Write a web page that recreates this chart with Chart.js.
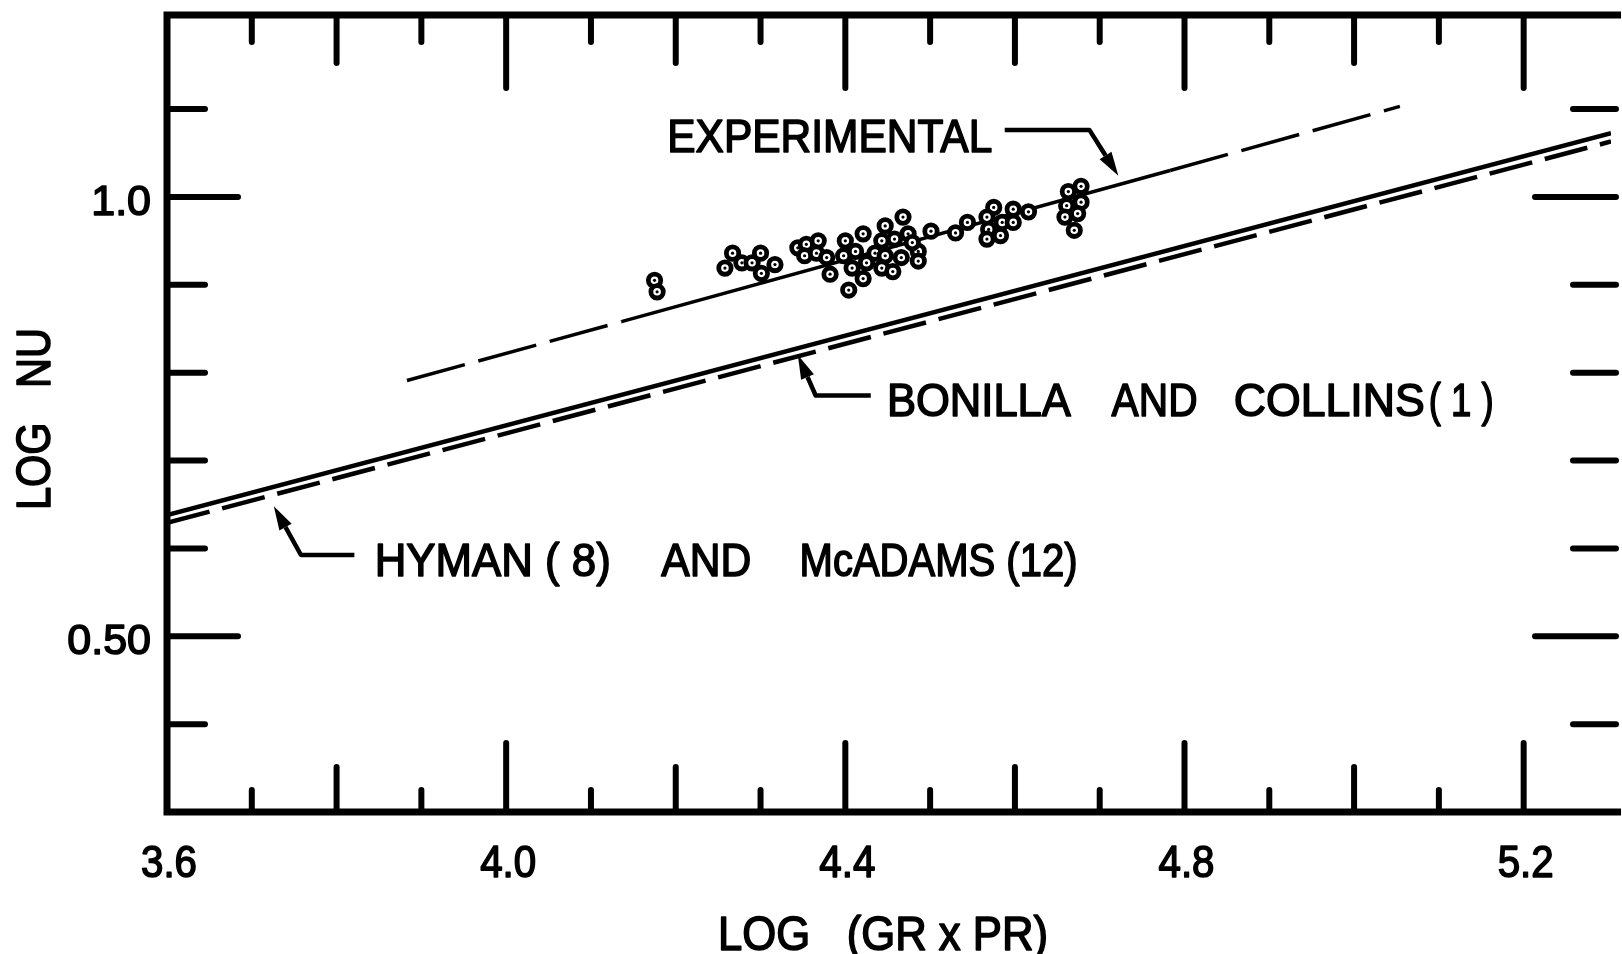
<!DOCTYPE html>
<html>
<head>
<meta charset="utf-8">
<script src="https://cdn.jsdelivr.net/npm/chart.js@4.4.1/dist/chart.umd.min.js"></script>
<style>
  html, body { margin: 0; padding: 0; background: #fff; overflow: hidden; }
  #wrap { position: relative; width: 1622px; height: 954px; }
</style>
</head>
<body>
<div id="wrap"><canvas id="chart"></canvas></div>
<script>
// axis ticks
const xMajor = [3.6, 4.0, 4.4, 4.8, 5.2];
const xTickLabels = ["3.6", "4.0", "4.4", "4.8", "5.2"];
const xMid = [3.8, 4.2, 4.6, 5.0];
const xMinor = [3.7, 3.9, 4.1, 4.3, 4.5, 4.7, 4.9, 5.1];
const yMajor = [0.5, 1.0];
const yTickLabels = ["0.50", "1.0"];
const yMinor = [0.4, 0.6, 0.7, 0.8, 0.9, 1.1];

// experimental points, log(Gr x Pr) vs log Nu
const logGrPr = [
  4.175, 4.178, 4.258, 4.267, 4.278, 4.290, 4.300, 4.301, 4.317,
  4.344, 4.354, 4.368, 4.352, 4.366, 4.378, 4.382, 4.400, 4.398,
  4.421, 4.412, 4.408, 4.425, 4.421, 4.404, 4.447, 4.468, 4.443,
  4.458, 4.474, 4.435, 4.447, 4.466, 4.443, 4.456, 4.486, 4.486,
  4.501, 4.479, 4.530, 4.544, 4.575, 4.567, 4.569, 4.585, 4.567,
  4.583, 4.598, 4.598, 4.616, 4.663, 4.678, 4.661, 4.678, 4.659,
  4.674, 4.670
];
const logNu = [
  0.905, 0.892, 0.919, 0.936, 0.925, 0.925, 0.936, 0.913, 0.923,
  0.942, 0.946, 0.950, 0.933, 0.936, 0.931, 0.912, 0.950, 0.933,
  0.958, 0.938, 0.919, 0.925, 0.907, 0.894, 0.967, 0.977, 0.950,
  0.952, 0.958, 0.936, 0.933, 0.931, 0.919, 0.915, 0.938, 0.927,
  0.961, 0.948, 0.959, 0.971, 0.988, 0.977, 0.963, 0.971, 0.952,
  0.956, 0.986, 0.971, 0.983, 1.006, 1.012, 0.990, 0.994, 0.977,
  0.981, 0.962
];

// correlation lines
const expFitX = [3.883, 4.136, 4.783, 5.054];
const expFitY = [0.791, 0.858, 1.030, 1.103];
const bonillaX = [3.6, 5.303];
const bonillaY = [0.638, 1.0725];
const hymanX = [3.6, 5.303];
const hymanY = [0.629, 1.063];

const pts = (xs, ys) => xs.map((v, i) => ({ x: v, y: ys[i] }));
const FONT = '"Liberation Sans", Arial, sans-serif';

// labels on the plot: [text, x, y(baseline), max width px]
const notes = [
  ["EXPERIMENTAL", 4.190, 1.051, 325],
  ["BONILLA", 4.449, 0.751, 184],
  ["AND", 4.714, 0.751, 86],
  ["COLLINS", 4.858, 0.751, 191],
  ["( 1 )", 5.088, 0.751, 65],
  ["HYMAN ( 8)", 3.845, 0.5686, 236],
  ["AND", 4.183, 0.5686, 90],
  ["McADAMS (12)", 4.346, 0.5686, 278]
];
// arrows: polyline in data coords, last point is the tip
const arrows = [
  [[4.588, 1.076], [4.688, 1.076], [4.722, 1.024]],
  [[4.430, 0.774], [4.365, 0.774], [4.344, 0.820]],
  [[3.821, 0.5925], [3.758, 0.5925], [3.726, 0.648]]
];

// lettering is heavier than the plain font, so fill and stroke it
function letter(ctx, s, x, y, w) {
  ctx.fillText(s, x, y, w);
  ctx.strokeText(s, x, y, w);
}

const frame = {
  id: "frame",
  afterDatasetsDraw(chart) {
    const { ctx, chartArea: a, scales } = chart;
    const sx = scales.x, sy = scales.y;
    ctx.save();
    ctx.strokeStyle = "#000";
    ctx.fillStyle = "#000";

    // box (right side is off the picture)
    ctx.lineWidth = 7;
    ctx.beginPath();
    ctx.moveTo(a.right + 10, a.top);
    ctx.lineTo(a.left, a.top);
    ctx.lineTo(a.left, a.bottom);
    ctx.lineTo(a.right + 10, a.bottom);
    ctx.stroke();

    ctx.lineWidth = 6;
    ctx.lineCap = "round";
    function vt(v, top, bot) {
      const px = sx.getPixelForValue(v);
      ctx.beginPath();
      ctx.moveTo(px, a.top); ctx.lineTo(px, a.top + top);
      ctx.moveTo(px, a.bottom); ctx.lineTo(px, a.bottom - bot);
      ctx.stroke();
    }
    xMajor.slice(1).forEach(v => vt(v, 73, 69));
    xMid.forEach(v => vt(v, 48, 45));
    xMinor.forEach(v => vt(v, 27, 22));

    function ht(v, l, r) {
      const py = sy.getPixelForValue(v);
      ctx.beginPath();
      ctx.moveTo(a.left, py); ctx.lineTo(a.left + l, py);
      ctx.moveTo(a.right + 5, py); ctx.lineTo(a.right - r, py);
      ctx.stroke();
    }
    yMajor.forEach(v => ht(v, 71, 76));
    yMinor.forEach(v => ht(v, 38, 38));

    ctx.lineWidth = 1.6;
    ctx.lineCap = "butt";
    ctx.lineJoin = "round";

    // tick labels
    ctx.font = "44px " + FONT;
    ctx.textAlign = "center";
    ctx.textBaseline = "alphabetic";
    xMajor.forEach((v, i) => {
      letter(ctx, xTickLabels[i], sx.getPixelForValue(v) + 2, a.bottom + 65, 56);
    });
    ctx.font = "43px " + FONT;
    ctx.textAlign = "right";
    yMajor.forEach((v, i) => {
      letter(ctx, yTickLabels[i], a.left - 16, sy.getPixelForValue(v) + 18, 86);
    });

    // axis titles
    ctx.font = "48px " + FONT;
    ctx.textAlign = "center";
    letter(ctx, "LOG   (GR x PR)", 883, a.bottom + 138, 330);
    ctx.save();
    ctx.translate(50, 419);
    ctx.rotate(-Math.PI / 2);
    letter(ctx, "LOG   NU", 0, 0, 182);
    ctx.restore();

    // notes
    ctx.font = "47px " + FONT;
    ctx.textAlign = "left";
    notes.forEach(n => {
      letter(ctx, n[0], sx.getPixelForValue(n[1]), sy.getPixelForValue(n[2]), n[3]);
    });

    // arrows
    ctx.lineWidth = 4.5;
    arrows.forEach(p => {
      const q = p.map(d => [sx.getPixelForValue(d[0]), sy.getPixelForValue(d[1])]);
      const tip = q[q.length - 1], prev = q[q.length - 2];
      const ang = Math.atan2(tip[1] - prev[1], tip[0] - prev[0]);
      const hl = 24, hw = 7;
      const bx = tip[0] - hl * Math.cos(ang), by = tip[1] - hl * Math.sin(ang);
      ctx.beginPath();
      ctx.moveTo(q[0][0], q[0][1]);
      for (let i = 1; i < q.length - 1; i++) ctx.lineTo(q[i][0], q[i][1]);
      ctx.lineTo(bx, by);
      ctx.stroke();
      ctx.beginPath();
      ctx.moveTo(tip[0], tip[1]);
      ctx.lineTo(bx + hw * Math.sin(ang), by - hw * Math.cos(ang));
      ctx.lineTo(bx - hw * Math.sin(ang), by + hw * Math.cos(ang));
      ctx.closePath();
      ctx.fill();
    });
    ctx.restore();
  }
};

new Chart(document.getElementById("chart"), {
  type: "scatter",
  data: {
    datasets: [
      {
        label: "centres",
        data: pts(logGrPr, logNu),
        pointRadius: 1.6,
        pointBackgroundColor: "#000",
        pointBorderWidth: 0,
        order: 0
      },
      {
        label: "Experimental data",
        data: pts(logGrPr, logNu),
        pointRadius: 6.2,
        pointBorderWidth: 4.8,
        pointBorderColor: "#000",
        pointBackgroundColor: "#fff",
        order: 1
      },
      {
        label: "Experimental",
        data: pts(expFitX, expFitY),
        showLine: true,
        pointRadius: 0,
        borderColor: "#000",
        borderWidth: 3.5,
        segment: {
          borderDash: c => (c.p0DataIndex === 1 ? [] : [60, 14])
        },
        order: 2
      },
      {
        label: "Bonilla and Collins (1)",
        data: pts(bonillaX, bonillaY),
        showLine: true,
        pointRadius: 0,
        borderColor: "#000",
        borderWidth: 4.5,
        order: 2
      },
      {
        label: "Hyman (8) and McAdams (12)",
        data: pts(hymanX, hymanY),
        showLine: true,
        pointRadius: 0,
        borderColor: "#000",
        borderWidth: 4.5,
        borderDash: [44, 13],
        order: 2
      }
    ]
  },
  options: {
    responsive: true,
    maintainAspectRatio: false,
    animation: false,
    layout: { padding: { left: 167, right: 0, top: 15, bottom: 142 } },
    scales: {
      x: { type: "linear", min: 3.6, max: 5.303, display: false },
      y: { type: "linear", min: 0.3, max: 1.207, display: false }
    },
    plugins: { legend: { display: false }, tooltip: { enabled: false } }
  },
  plugins: [frame]
});
</script>
</body>
</html>
